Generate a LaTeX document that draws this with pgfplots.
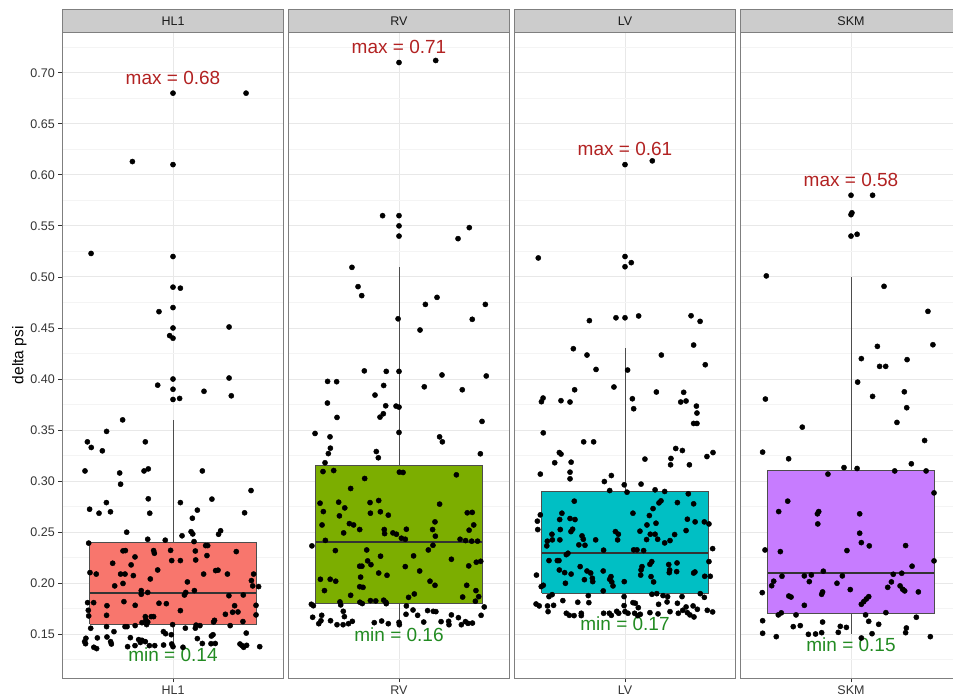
\documentclass[border=0pt]{standalone}
\usepackage{fontspec}
\setmainfont{Liberation Sans}
\usepackage{pgfplots}
\pgfplotsset{compat=1.18}
\definecolor{c1}{HTML}{F8766D}
\definecolor{c2}{HTML}{7CAE00}
\definecolor{c3}{HTML}{00BFC4}
\definecolor{c4}{HTML}{C77CFF}
\definecolor{grey10}{HTML}{1A1A1A}
\definecolor{grey20}{HTML}{333333}
\definecolor{grey30}{HTML}{4D4D4D}
\definecolor{grey50}{HTML}{7F7F7F}
\definecolor{grey80}{HTML}{CCCCCC}
\definecolor{grid90}{HTML}{E8E8E8}
\definecolor{grid98}{HTML}{F4F4F4}
\definecolor{maxred}{HTML}{B22222}
\definecolor{mingreen}{HTML}{228B22}
\pgfplotsset{
  panel/.style={
    scale only axis, width=221.4pt, height=646pt,
    xmin=0.4, xmax=1.6, ymin=0.1069, ymax=0.7396,
    xtick={1},
    ytick={0.15,0.2,0.25,0.3,0.35,0.4,0.45,0.5,0.55,0.6,0.65,0.7},
    minor ytick={0.125,0.175,0.225,0.275,0.325,0.375,0.425,0.475,0.525,0.575,0.625,0.675,0.725},
    ymajorgrids, yminorgrids, xmajorgrids,
    major grid style={color=grid90, line width=0.9pt},
    minor grid style={color=grid98, line width=1pt},
    axis line style={draw=grey50, line width=1pt},
    tick align=outside, major tick length=4pt, minor tick length=0pt,
    xtick pos=bottom, ytick pos=left,
    tick style={grey20, line width=0.8pt},
    ticklabel style={font=\fontsize{12.5}{14}\selectfont, text=grey20},
    /pgf/number format/assume math mode=true,
    yticklabel style={/pgf/number format/fixed, /pgf/number format/fixed zerofill, /pgf/number format/precision=2},
    anchor=south west,
  },
  pts/.style={only marks, mark=*, mark size=2.6pt, mark options={draw=black, fill=black}},
  boxs/.style={draw=grey30, line width=1pt, line join=miter, mark=none},
  whisk/.style={draw=grey30, line width=0.9pt, mark=none},
  med/.style={draw=grey20, line width=2pt, mark=none},
}
\begin{document}
\begin{tikzpicture}[x=1pt,y=1pt]
% ---------------- HL1 ----------------
\begin{axis}[panel, at={(62.3pt,-678.3pt)}, xticklabels={HL1},
  ylabel={delta psi}, ylabel style={at={(axis description cs:-0.194,0.5)}, anchor=center, font=\fontsize{15.5}{17}\selectfont, text=black}]
\addplot[whisk] coordinates {(1,0.24)(1,0.36)};
\addplot[whisk] coordinates {(1,0.16)(1,0.14)};
\addplot[boxs, fill=c1] coordinates {(0.55,0.16)(1.45,0.16)(1.45,0.24)(0.55,0.24)(0.55,0.16)};
\addplot[med] coordinates {(0.55,0.19)(1.45,0.19)};
\addplot[pts] coordinates {
(1,0.68)(1.396,0.68)(0.78,0.613)(1,0.61)
(0.556,0.523)(1,0.52)(1,0.49)(1.04,0.489)(1,0.47)(0.924,0.466)(1,0.45)(1.304,0.451)(0.982,0.4425)(1,0.44)(1,0.40)(1.304,0.401)(0.917,0.394)(1,0.39)(1.168,0.388)(1,0.38)(1.036,0.381)(1.316,0.3836)(0.727,0.360)(0.640,0.3487)(0.536,0.3385)(0.850,0.3385)(0.557,0.333)(0.617,0.3297)
(0.523,0.310)(0.711,0.308)(0.716,0.297)(0.843,0.310)(0.866,0.312)(1.159,0.310)(0.548,0.2725)(0.599,0.2686)(0.639,0.279)(0.661,0.270)(0.866,0.2827)(0.874,0.2686)(1.04,0.279)(1.132,0.2716)(1.211,0.2824)(1.105,0.2637)(1.423,0.2908)(1.388,0.269)(0.749,0.250)(1.098,0.2505)(1.107,0.2483)(1.049,0.2465)(1.258,0.2514)(1.247,0.248)(0.863,0.2431)(0.958,0.2422)(1.114,0.2408)(0.543,0.2393)
(0.729,0.2317)(0.742,0.232)(0.895,0.232)(0.899,0.2294)(0.987,0.2322)(0.993,0.2222)(1.04,0.2222)(1.121,0.2316)(1.123,0.2228)(1.177,0.2369)(1.188,0.2369)(1.184,0.2271)(1.343,0.231)(0.673,0.2196)(0.773,0.218)(0.794,0.2258)(0.917,0.213)(0.550,0.2104)(0.584,0.209)(0.716,0.209)(0.740,0.209)(0.785,0.2075)(0.877,0.2042)(1.078,0.2013)(1.166,0.209)(1.231,0.2124)(1.244,0.2128)(1.295,0.209)(1.437,0.209)(0.684,0.1974)(0.729,0.1998)(1.425,0.2026)(1.432,0.1974)(1.464,0.1967)(0.828,0.1928)(0.828,0.1892)(0.863,0.191)(1.069,0.191)(1.062,0.1885)(1.116,0.1928)(1.303,0.1878)(1.381,0.1885)(0.537,0.181)(0.570,0.181)(0.734,0.182)(0.795,0.1784)(0.642,0.178)(0.924,0.1804)(0.964,0.180)(1.04,0.1732)(1.334,0.178)(1.352,0.1719)(1.323,0.1716)(1.284,0.1696)(1.45,0.1784)(1.45,0.169)(0.541,0.1735)(0.543,0.168)(0.640,0.1686)(0.850,0.1673)(0.882,0.1673)(0.895,0.1673)(0.832,0.1614)(0.853,0.164)(0.863,0.162)(1.379,0.1625)(1.220,0.1621)(1.225,0.1637)
(0.554,0.1559)(0.640,0.1575)(0.740,0.1575)(0.751,0.1575)(0.795,0.1585)(0.857,0.1595)(0.998,0.1595)(1.125,0.159)(1.146,0.1585)(1.067,0.156)(1.121,0.156)(1.31,0.1585)(0.680,0.1526)(0.948,0.1526)(0.960,0.1506)(0.991,0.1496)(1.397,0.1512)(1.208,0.1483)(1.217,0.1496)(0.528,0.1461)(0.590,0.1465)(0.642,0.1474)(0.769,0.1467)(0.814,0.1448)(1.132,0.1458)(0.521,0.1428)(0.526,0.1408)(0.662,0.1428)(0.666,0.1405)(0.832,0.1441)(0.823,0.142)(0.850,0.1428)(0.993,0.1405)(1.159,0.141)(1.206,0.1408)(1.229,0.141)(1.363,0.1405)(0.571,0.1373)(0.586,0.136)(0.754,0.1379)(0.794,0.1389)(0.872,0.1389)(0.901,0.1389)(0.949,0.1395)(1.0,0.1379)(1.054,0.1373)(1.374,0.1389)(1.383,0.1373)(1.399,0.1392)(1.47,0.1379)
};
\node[font=\fontsize{19}{22}\selectfont, text=maxred] at (axis cs:1,0.695) {max = 0.68};
\node[font=\fontsize{19}{22}\selectfont, text=mingreen] at (axis cs:1,0.13) {min = 0.14};
\end{axis}
% ---------------- RV ----------------
\begin{axis}[panel, at={(288.3pt,-678.3pt)}, xticklabels={RV}, yticklabels={}, ytick style={draw=none}]
\addplot[whisk] coordinates {(1,0.315)(1,0.51)};
\addplot[whisk] coordinates {(1,0.18)(1,0.16)};
\addplot[boxs, fill=c2] coordinates {(0.55,0.18)(1.45,0.18)(1.45,0.315)(0.55,0.315)(0.55,0.18)};
\addplot[med] coordinates {(0.55,0.24)(1.45,0.24)};
\addplot[pts] coordinates {
(1,0.710)(1.199,0.712)(0.911,0.56)(1,0.56)(1,0.55)(1.381,0.5483)(1,0.54)(1.320,0.5375)
(0.745,0.5094)(0.778,0.4905)(0.798,0.4817)(1.143,0.4731)(1.206,0.480)(1.468,0.4731)(0.995,0.459)(1.397,0.4585)(1.114,0.448)(0.812,0.408)(0.931,0.4075)(1.0,0.4075)(1.233,0.404)(1.473,0.403)(0.613,0.3977)(0.662,0.3974)(0.917,0.3937)(1.137,0.3924)(1.343,0.3895)(0.870,0.3843)(0.612,0.3765)(0.928,0.3738)(0.984,0.3735)(1.0,0.3725)(0.664,0.3624)(0.897,0.3627)(0.915,0.366)(1.45,0.3585)(0.545,0.3467)(1.0,0.3477)(0.626,0.3434)(1.22,0.3434)(1.235,0.3385)(0.628,0.3323)(0.617,0.327)(0.877,0.329)(0.888,0.3229)(1.441,0.3268)(0.599,0.318)
(0.588,0.3094)(0.646,0.3104)(1.002,0.3088)(1.022,0.3085)(1.311,0.3062)(0.814,0.3026)(0.738,0.2928)(0.572,0.2784)(0.673,0.2794)(0.706,0.2738)(0.590,0.2702)(0.677,0.266)(0.843,0.279)(0.890,0.281)(0.845,0.2686)(0.899,0.270)(0.942,0.2667)(1.220,0.2775)(1.370,0.269)(1.397,0.2694)(1.195,0.2601)(1.405,0.2571)(0.583,0.2571)(0.731,0.2584)(0.754,0.2571)(0.787,0.2526)(0.700,0.2493)(0.920,0.2526)(0.922,0.2486)(0.967,0.2493)(0.986,0.248)(1.04,0.2529)(1.182,0.2526)(1.380,0.252)(1.197,0.2461)(1.013,0.2441)(1.034,0.2431)(0.601,0.242)(1.331,0.2431)(1.361,0.2418)(1.394,0.2412)(1.426,0.2412)(0.528,0.2366)(1.184,0.2372)(0.655,0.232)(0.825,0.2326)(1.159,0.2326)(0.900,0.2265)(1.079,0.2268)(1.284,0.2235)(0.830,0.2219)(0.848,0.2182)(0.787,0.2167)(0.799,0.2167)(1.034,0.2163)(1.378,0.217)(1.419,0.2206)(1.443,0.2215)(1.112,0.212)(0.890,0.210)(0.935,0.2078)(0.792,0.206)(0.574,0.2039)(0.627,0.2039)(0.657,0.202)(1.168,0.202)(1.195,0.198)(0.787,0.1966)(0.805,0.196)(1.367,0.198)(0.596,0.1928)(1.417,0.1928)(0.738,0.1882)(1.083,0.1895)(1.052,0.1862)(1.345,0.1865)(1.432,0.1869)(0.680,0.1817)(0.845,0.183)(0.874,0.1827)(0.917,0.1834)(0.929,0.1814)(0.788,0.1814)(0.801,0.1801)(1.414,0.1824)(0.525,0.1794)(0.536,0.178)(0.684,0.1788)(0.931,0.180)(1.04,0.1778)(1.462,0.1768)
(1.076,0.1738)(1.155,0.1732)(1.186,0.1725)(1.2,0.1722)(0.698,0.1725)(1.038,0.1696)(1.101,0.1686)(1.284,0.169)(1.445,0.1686)(0.532,0.1667)(0.581,0.1686)(0.704,0.1673)(1.322,0.1663)(0.577,0.1633)(0.629,0.1633)(0.747,0.1627)(0.906,0.163)(1.134,0.162)(1.228,0.1624)(1.269,0.1627)(1.360,0.1624)(0.565,0.1604)(0.664,0.1594)(0.697,0.1594)(0.726,0.1604)(0.866,0.1614)(0.942,0.1604)(1.0,0.1617)(1.002,0.1594)(1.271,0.1594)(1.338,0.1594)(1.374,0.1607)(1.398,0.161)
};
\node[font=\fontsize{19}{22}\selectfont, text=maxred] at (axis cs:1,0.725) {max = 0.71};
\node[font=\fontsize{19}{22}\selectfont, text=mingreen] at (axis cs:1,0.15) {min = 0.16};
\end{axis}
% ---------------- LV ----------------
\begin{axis}[panel, at={(514.3pt,-678.3pt)}, xticklabels={LV}, yticklabels={}, ytick style={draw=none}]
\addplot[whisk] coordinates {(1,0.29)(1,0.43)};
\addplot[whisk] coordinates {(1,0.19)(1,0.17)};
\addplot[boxs, fill=c3] coordinates {(0.55,0.19)(1.45,0.19)(1.45,0.29)(0.55,0.29)(0.55,0.19)};
\addplot[med] coordinates {(0.55,0.23)(1.45,0.23)};
\addplot[pts] coordinates {
(1,0.61)(1.148,0.6137)
(0.530,0.5186)(1,0.520)(1,0.510)(1.034,0.514)(0.807,0.4572)(0.951,0.460)(1.0,0.460)(1.074,0.4618)(1.358,0.462)(1.407,0.4565)(0.720,0.4297)(0.794,0.4235)(1.372,0.4333)(1.197,0.4235)(1.435,0.414)(0.843,0.4094)(1.014,0.4088)(0.940,0.3922)(0.727,0.3895)(1.170,0.3873)(1.318,0.3870)(0.556,0.3814)(0.547,0.3778)(0.653,0.3788)(0.702,0.3775)(1.040,0.3807)(1.047,0.3709)(1.302,0.3775)(1.331,0.3785)(1.387,0.3735)(1.390,0.3667)(1.372,0.3565)(1.390,0.3565)(0.557,0.3473)(0.776,0.3385)(0.830,0.3385)(1.275,0.332)(1.311,0.330)(0.644,0.328)(0.653,0.3265)(1.477,0.328)(1.444,0.3241)(1.108,0.3216)(1.249,0.3222)(0.619,0.318)(0.708,0.3186)(1.247,0.316)(1.349,0.316)
(0.541,0.3069)(0.702,0.3088)(0.702,0.3023)(0.926,0.3055)(0.888,0.2996)(0.917,0.2908)(0.996,0.2964)(1.011,0.2892)(1.087,0.2971)(1.163,0.2915)(1.215,0.2899)(1.343,0.2876)(0.725,0.2804)(1.195,0.2807)(1.184,0.2787)(1.284,0.279)(1.372,0.2778)(1.152,0.2731)(1.043,0.2686)(1.132,0.2663)(0.658,0.2686)(0.541,0.2670)(0.646,0.2624)(0.702,0.2634)(0.729,0.2624)(1.338,0.2627)(1.380,0.2601)(1.430,0.2601)(1.455,0.2581)(0.525,0.2608)(0.527,0.2526)(1.119,0.2571)(1.168,0.2588)(0.649,0.2526)(0.707,0.2506)(0.716,0.2529)(1.081,0.251)(1.331,0.2516)(0.948,0.2506)(0.964,0.2480)(0.604,0.248)(0.767,0.2464)(0.774,0.2431)(0.960,0.2425)(0.841,0.2425)(0.579,0.2412)(0.606,0.2425)(0.647,0.2425)(1.117,0.2428)(1.137,0.248)(1.163,0.248)(1.177,0.2431)(1.244,0.2418)(1.269,0.2477)(1.215,0.2395)(0.576,0.2366)(0.750,0.2376)(0.783,0.2372)(1.475,0.2339)(0.884,0.2324)(1.047,0.2327)(1.065,0.2327)(1.101,0.232)(0.588,0.2222)(0.633,0.2222)(0.642,0.2222)(0.691,0.2294)(0.682,0.228)(1.135,0.2186)(1.145,0.2212)(1.092,0.2163)(1.087,0.213)(1.237,0.2183)(1.282,0.2199)(1.242,0.213)(1.455,0.2212)(0.644,0.213)(0.757,0.2163)(0.882,0.212)(0.673,0.2104)(0.708,0.209)(0.794,0.212)(0.814,0.210)(0.924,0.2065)(1.141,0.2065)(1.085,0.208)(1.240,0.2104)(1.280,0.2114)(1.372,0.210)(1.379,0.211)(0.520,0.208)(1.432,0.2068)(1.462,0.2068)(0.677,0.200)(0.780,0.2035)(0.823,0.2049)(0.825,0.2016)(0.917,0.2039)(0.928,0.2013)(0.935,0.1974)(0.996,0.2016)(1.155,0.2013)(0.557,0.198)(0.546,0.1967)(0.882,0.1925)
(0.605,0.1888)(0.588,0.1869)(0.801,0.1879)(0.995,0.1869)(1.146,0.1892)(1.172,0.1898)(1.206,0.1879)(1.231,0.1869)(1.309,0.1869)(1.408,0.1898)(1.430,0.1862)(0.518,0.1797)(0.535,0.1778)(0.580,0.1778)(0.613,0.1784)(0.663,0.183)(0.744,0.1814)(0.804,0.181)(0.995,0.1781)(1.043,0.181)(1.056,0.1804)(1.072,0.1761)(1.182,0.1794)(1.228,0.1817)(1.284,0.1804)(1.331,0.1768)(1.369,0.1778)(1.392,0.1745)(0.583,0.1722)(0.682,0.1706)(0.698,0.1686)(0.724,0.1683)(0.763,0.1706)(0.763,0.1683)(0.884,0.1706)(0.915,0.1706)(0.926,0.1686)(0.955,0.1725)(0.966,0.1706)(1.0,0.1722)(1.016,0.1706)(1.052,0.1706)(1.069,0.1683)(1.083,0.1696)(1.135,0.1712)(1.179,0.170)(1.244,0.1722)(1.289,0.1706)(1.313,0.1735)(1.338,0.1712)(1.352,0.169)(1.374,0.167)(1.446,0.1735)(1.475,0.1719)
};
\node[font=\fontsize{19}{22}\selectfont, text=maxred] at (axis cs:1,0.625) {max = 0.61};
\node[font=\fontsize{19}{22}\selectfont, text=mingreen] at (axis cs:1,0.16) {min = 0.17};
\end{axis}
% ---------------- SKM ----------------
\begin{axis}[panel, at={(740.3pt,-678.3pt)}, xticklabels={SKM}, yticklabels={}, ytick style={draw=none}]
\addplot[whisk] coordinates {(1,0.31)(1,0.50)};
\addplot[whisk] coordinates {(1,0.17)(1,0.15)};
\addplot[boxs, fill=c4] coordinates {(0.55,0.17)(1.45,0.17)(1.45,0.31)(0.55,0.31)(0.55,0.17)};
\addplot[med] coordinates {(0.55,0.21)(1.45,0.21)};
\addplot[pts] coordinates {
(1,0.580)(1.117,0.580)(1,0.561)(1.005,0.5628)(1,0.540)(1.033,0.5418)
(0.541,0.501)(1.179,0.4908)(1.417,0.4663)(1.444,0.4336)(1.143,0.432)(1.056,0.420)(1.304,0.419)(1.155,0.4124)(1.188,0.4124)(1.036,0.397)(1.117,0.383)(1.289,0.3875)(0.536,0.3804)(1.302,0.3719)(1.249,0.3575)(0.736,0.3529)(1.399,0.3398)(0.521,0.3284)(0.662,0.3219)(1.327,0.317)(0.962,0.3133)(1.033,0.3124)
(1.237,0.310)(1.407,0.310)(0.875,0.3069)(1.450,0.2885)(0.657,0.2804)(0.608,0.2702)(0.825,0.2702)(0.818,0.268)(1.047,0.268)(0.820,0.2581)(1.047,0.249)(1.056,0.2398)(1.099,0.2366)(1.296,0.2369)(0.978,0.232)(0.534,0.2326)(0.617,0.231)(1.450,0.2219)(1.331,0.2167)(0.850,0.2118)(1.275,0.2098)(1.229,0.2088)(0.626,0.2069)(0.747,0.2072)(0.785,0.2081)(0.953,0.2072)(0.581,0.202)(0.570,0.1976)(0.774,0.2016)(0.924,0.2)(1.219,0.2013)(1.199,0.196)(1.266,0.1974)(1.280,0.1941)(1.291,0.1925)(0.996,0.1938)(1.365,0.1915)(0.519,0.1908)(0.846,0.1915)(0.841,0.1892)(0.663,0.1875)(0.675,0.1865)(1.096,0.1869)(1.083,0.1846)(1.069,0.182)(1.056,0.1794)(0.747,0.1784)
(0.606,0.169)(0.622,0.171)(0.702,0.169)(1.079,0.169)(1.189,0.1712)(1.354,0.1667)(0.521,0.1633)(0.846,0.162)(1.096,0.1627)(1.150,0.1598)(0.687,0.1575)(0.725,0.1585)(0.942,0.1578)(0.975,0.1568)(1.300,0.1562)(0.521,0.151)(0.595,0.1477)(0.769,0.150)(0.808,0.1503)(0.841,0.1516)(0.931,0.1519)(1.056,0.1464)(1.114,0.1506)(1.296,0.1516)(1.430,0.1477)
};
\node[font=\fontsize{19}{22}\selectfont, text=maxred] at (axis cs:1,0.595) {max = 0.58};
\node[font=\fontsize{19}{22}\selectfont, text=mingreen] at (axis cs:1,0.14) {min = 0.15};
\end{axis}
% ---------------- strips ----------------
\foreach \L/\lab in {62.3/HL1, 288.3/RV, 514.3/LV, 740.3/SKM}{
  \draw[fill=grey80, draw=grey50, line width=1pt] (\L,-32.3) rectangle (\L+221.4,-9.3);
  \node[font=\fontsize{12.5}{14}\selectfont, text=grey10] at (\L+110.7,-20.8) {\lab};
}
\pgfresetboundingbox
\path[use as bounding box] (0,0) rectangle (953,-699);
\end{tikzpicture}
\end{document}
